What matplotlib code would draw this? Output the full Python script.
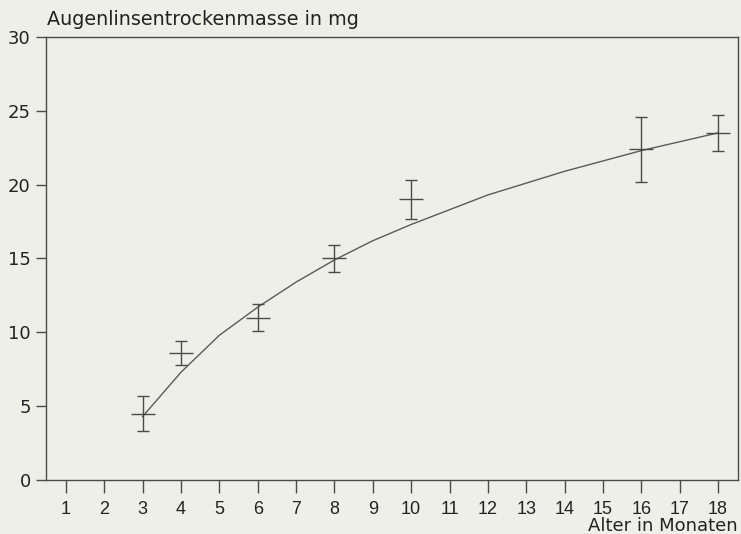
import numpy as np
import matplotlib.pyplot as plt

# Messwerte (Mittelwert +/- Fehler)
alter = [3, 4, 6, 8, 10, 16, 18]
masse = [4.5, 8.6, 11.0, 15.0, 19.0, 22.4, 23.5]
fehler = [1.2, 0.8, 0.9, 0.9, 1.3, 2.2, 1.2]

# Ausgleichskurve
kurve_x = [3, 4, 5, 6, 7, 8, 9, 10, 11, 12, 13, 14, 15, 16, 17, 18]
kurve_y = [4.3, 7.3, 9.8, 11.7, 13.4, 14.9, 16.2, 17.3, 18.3, 19.3, 20.1, 20.9, 21.6, 22.3, 22.9, 23.5]

x_ticks = list(range(1, 19))
y_ticks = [0, 5, 10, 15, 20, 25, 30]

bg = '#efefea'
ink = '#4a4a4a'

fig = plt.figure(figsize=(7.41, 5.34), dpi=100, facecolor=bg)
ax = fig.add_axes([0.062, 0.101, 0.934, 0.83], facecolor=bg)

ax.plot(kurve_x, kurve_y, color='#5a5a5a', lw=1.0)
ax.errorbar(alter, masse, yerr=fehler, fmt='none', ecolor=ink, elinewidth=1.0,
            capsize=4, capthick=1.0)
ax.plot(alter, masse, ls='none', marker='_', markersize=17, mew=1.0, color=ink)

ax.set_xlim(0.48, 18.52)
ax.set_ylim(0, 30)
ax.set_xticks(x_ticks)
ax.set_yticks(y_ticks)
ax.set_xticklabels([str(v) for v in x_ticks], family='Liberation Sans', fontsize=13)
ax.set_yticklabels([str(v) for v in y_ticks], family='DejaVu Sans', fontsize=13)
ax.tick_params(axis='x', direction='out', length=9, width=1.0, color=ink, labelcolor='#222222', pad=6)
ax.tick_params(axis='y', direction='out', length=7, width=1.0, color=ink, labelcolor='#222222', pad=4)

for s in ax.spines.values():
    s.set_color(ink)
    s.set_linewidth(1.0)

fig.text(0.063, 0.964, 'Augenlinsentrockenmasse in mg', family='DejaVu Sans',
         fontsize=13.8, color='#222222', va='center', ha='left')
fig.text(0.995, 0.015, 'Alter in Monaten', family='DejaVu Sans',
         fontsize=13, color='#222222', va='center', ha='right')

fig.savefig('out.png', dpi=100, facecolor=bg)
